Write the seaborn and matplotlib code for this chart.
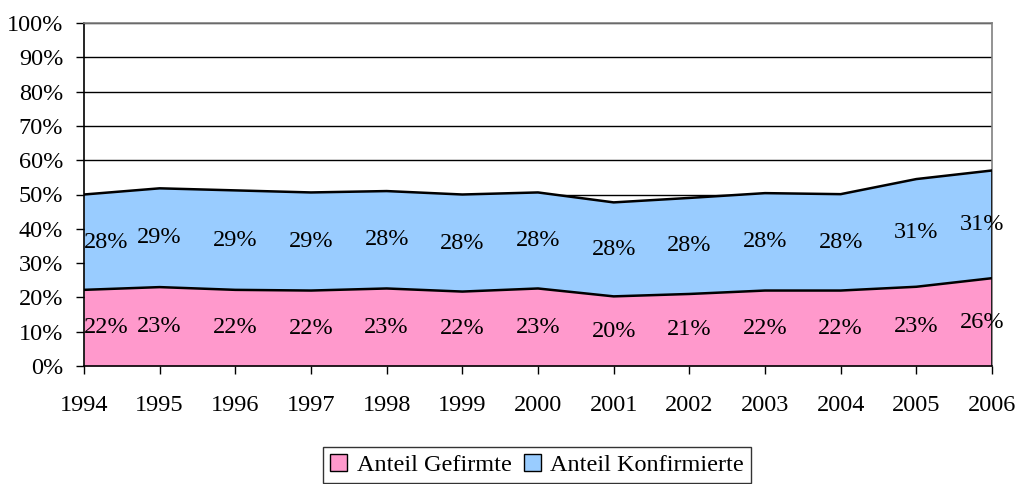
import numpy as np
import pandas as pd
import matplotlib
matplotlib.use("Agg")
import matplotlib.pyplot as plt
from matplotlib.patches import Patch
import seaborn as sns

# -------------------------------
# Data (percent)
# -------------------------------
years = [1994, 1995, 1996, 1997, 1998, 1999, 2000,
         2001, 2002, 2003, 2004, 2005, 2006]
gefirmte = [22.2, 23.0, 22.2, 22.0, 22.6, 21.7, 22.6,
            20.3, 21.0, 22.0, 22.0, 23.1, 25.6]
konfirmierte = [27.8, 28.8, 29.0, 28.6, 28.4, 28.3, 28.0,
                27.4, 28.0, 28.4, 28.1, 31.4, 31.4]
labels_gef = ["22%", "23%", "22%", "22%", "23%", "22%", "23%",
              "20%", "21%", "22%", "22%", "23%", "26%"]
labels_konf = ["28%", "29%", "29%", "29%", "28%", "28%", "28%",
               "28%", "28%", "28%", "28%", "31%", "31%"]
series_names = ["Anteil Gefirmte", "Anteil Konfirmierte"]

PINK = "#FF99CC"
BLUE = "#99CCFF"
FS = 17.5

sns.set_style("white")
plt.rcParams['font.family'] = ['Liberation Serif', 'DejaVu Serif']
plt.rcParams['text.color'] = 'black'
plt.rcParams['xtick.color'] = 'black'
plt.rcParams['ytick.color'] = 'black'

df = pd.DataFrame({"year": years, "gef": gefirmte, "konf": konfirmierte})
df["total"] = df["gef"] + df["konf"]

fig = plt.figure(figsize=(10.2, 4.84), dpi=100)
ax = fig.add_axes([84 / 1020, 118 / 484, 908 / 1020, 343 / 484])

# -------------------------------
# Stacked areas
# -------------------------------
ax.stackplot(df["year"], df["gef"], df["konf"], colors=[PINK, BLUE],
             linewidth=0, zorder=2)
sns.lineplot(data=df, x="year", y="gef", ax=ax, color="black",
             linewidth=1.8, zorder=3)
sns.lineplot(data=df, x="year", y="total", ax=ax, color="black",
             linewidth=1.8, zorder=3)
ax.plot([years[-1], years[-1]], [0, df["total"].iloc[-1]],
        color="black", linewidth=1.8, zorder=3)

# -------------------------------
# Data labels at the middle of each band
# -------------------------------
for i, yr in enumerate(years):
    dx = 0
    if i == 0:
        dx = 16
    elif i == len(years) - 1:
        dx = -7
    ax.annotate(labels_gef[i], (yr, gefirmte[i] / 2), xytext=(dx, 0),
                textcoords="offset points", ha="center", va="center",
                fontsize=FS, zorder=4)
    ax.annotate(labels_konf[i], (yr, gefirmte[i] + konfirmierte[i] / 2),
                xytext=(dx, 0), textcoords="offset points",
                ha="center", va="center", fontsize=FS, zorder=4)

# -------------------------------
# Axes styling
# -------------------------------
ax.set_xlim(years[0], years[-1])
ax.set_ylim(0, 100)
ax.set_yticks(np.arange(0, 101, 10))
ax.set_yticklabels([f"{v}%" for v in range(0, 101, 10)])
ax.set_xticks(years)
ax.set_xticklabels([str(y) for y in years])
ax.yaxis.grid(True, color="black", linewidth=1.0, zorder=1)
ax.set_axisbelow(True)
ax.set_xlabel("")
ax.set_ylabel("")

for side in ["top", "right"]:
    ax.spines[side].set_color("#808080")
    ax.spines[side].set_linewidth(1.2)
for side in ["left", "bottom"]:
    ax.spines[side].set_color("black")
    ax.spines[side].set_linewidth(1.2)

ax.tick_params(axis="y", direction="out", length=6, width=1.0,
               pad=9, labelsize=FS, left=True)
ax.tick_params(axis="x", direction="out", length=6, width=1.0,
               pad=15, labelsize=FS, bottom=True)

# -------------------------------
# Legend
# -------------------------------
handles = [Patch(facecolor=PINK, edgecolor="black", linewidth=1.0),
           Patch(facecolor=BLUE, edgecolor="black", linewidth=1.0)]
leg = fig.legend(handles, series_names, loc="center",
                 bbox_to_anchor=(537 / 1020, 19 / 484), ncol=2,
                 fontsize=FS, frameon=True, fancybox=False,
                 handlelength=0.7, handleheight=0.7, handletextpad=0.4,
                 columnspacing=0.5, borderpad=0.3, borderaxespad=0)
leg.get_frame().set_edgecolor("black")
leg.get_frame().set_linewidth(1.0)

fig.savefig("out.png", dpi=100)
